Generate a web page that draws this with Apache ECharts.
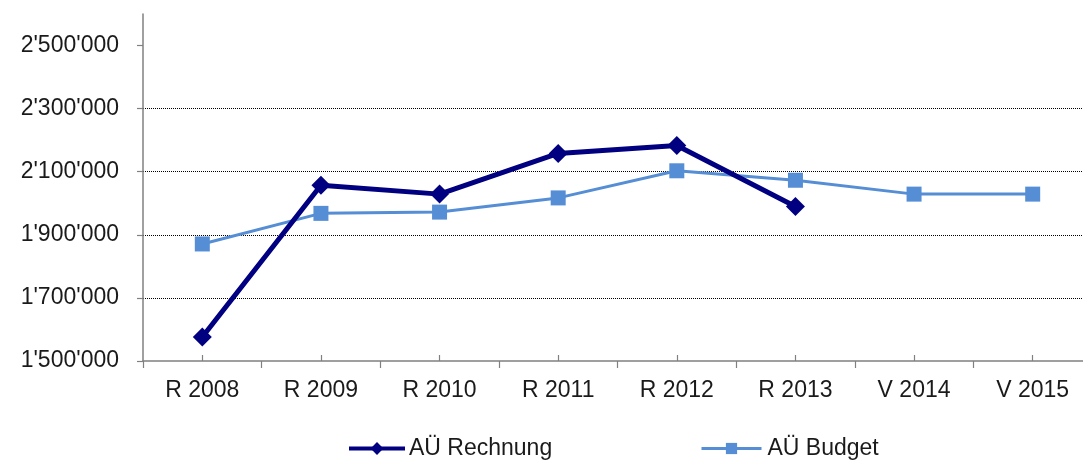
<!DOCTYPE html>
<html>
<head>
<meta charset="utf-8">
<script src="https://cdn.jsdelivr.net/npm/echarts@6/dist/echarts.min.js"></script>
<style>
html,body{margin:0;padding:0;background:#fff;overflow:hidden;width:1083px;height:462px;}
#chart{width:1096px;height:462px;}
</style>
</head>
<body>
<div id="chart"></div>
<script>
var categories = ['R 2008','R 2009','R 2010','R 2011','R 2012','R 2013','V 2014','V 2015'];
var rechnung = [1576000, 2057000, 2029000, 2158000, 2183000, 1990000, null, null];
var budget = [1871000, 1968000, 1972000, 2017000, 2103000, 2073000, 2029000, 2029000];
var yTicks = [1500000, 1700000, 1900000, 2100000, 2300000, 2500000];
var seriesNames = ['AÜ Rechnung', 'AÜ Budget'];

function fmt(v){
  return String(v).replace(/\B(?=(\d{3})+(?!\d))/g, "'");
}

var FONT = '"Liberation Sans", Arial, sans-serif';
var TXT = '#1a1a1a';
var AX = '#808080';

var chart = echarts.init(document.getElementById('chart'), null, {renderer:'canvas'});
chart.setOption({
  animation: false,
  backgroundColor: '#fff',
  grid: {left: 143, top: 14, width: 949, height: 347, containLabel: false},
  legend: [
    {data: [seriesNames[0]], left: 347, top: 437, padding: 0, itemWidth: 56, itemHeight: 16, itemGap: 10,
     lineStyle: {width: 4},
     textStyle: {fontFamily: FONT, fontSize: 23, color: TXT, padding: [0,0,0,-1]}},
    {data: [seriesNames[1]], left: 700, top: 437, padding: 0, itemWidth: 60, itemHeight: 14, itemGap: 10,
     lineStyle: {width: 3},
     textStyle: {fontFamily: FONT, fontSize: 23, color: TXT, padding: [0,0,0,1]}}
  ],
  xAxis: [
    {type: 'category', data: categories, boundaryGap: true,
     axisLine: {show: true, lineStyle: {color: AX, width: 1.5}},
     axisTick: {show: true, alignWithLabel: false, length: 7, lineStyle: {color: AX, width: 1.2}},
     axisLabel: {fontFamily: FONT, fontSize: 23, color: TXT, margin: 18},
     splitLine: {show: false}},
    {type: 'category', data: categories, boundaryGap: true, position: 'bottom',
     axisLine: {show: false},
     axisTick: {show: true, alignWithLabel: true, inside: true, length: 6, lineStyle: {color: AX, width: 1.2}},
     axisLabel: {show: false},
     splitLine: {show: false}}
  ],
  yAxis: {
    type: 'value', min: 1500000, max: 2600000, interval: 200000,
    axisLine: {show: true, lineStyle: {color: AX, width: 1.5}},
    axisTick: {show: true, length: 6, customValues: yTicks, lineStyle: {color: AX, width: 1.2}},
    axisLabel: {fontFamily: FONT, fontSize: 23, color: TXT, margin: 24, customValues: yTicks,
      formatter: function(v){ return v > 2500000 ? '' : fmt(v); }},
    splitLine: {show: true, showMinLine: false, showMaxLine: false, lineStyle: {color: '#000', width: 1, type: [1,1]}}
  },
  series: [
    {name: seriesNames[1], type: 'line', data: budget, xAxisIndex: 0,
     symbol: 'rect', symbolSize: 15, showAllSymbol: true,
     lineStyle: {color: '#558ED5', width: 3},
     itemStyle: {color: '#558ED5'}, z: 2},
    {name: seriesNames[0], type: 'line', data: rechnung, xAxisIndex: 0,
     symbol: 'diamond', symbolSize: 19, showAllSymbol: true,
     lineStyle: {color: '#000080', width: 5},
     itemStyle: {color: '#000080'}, z: 3}
  ]
});
</script>
</body>
</html>
